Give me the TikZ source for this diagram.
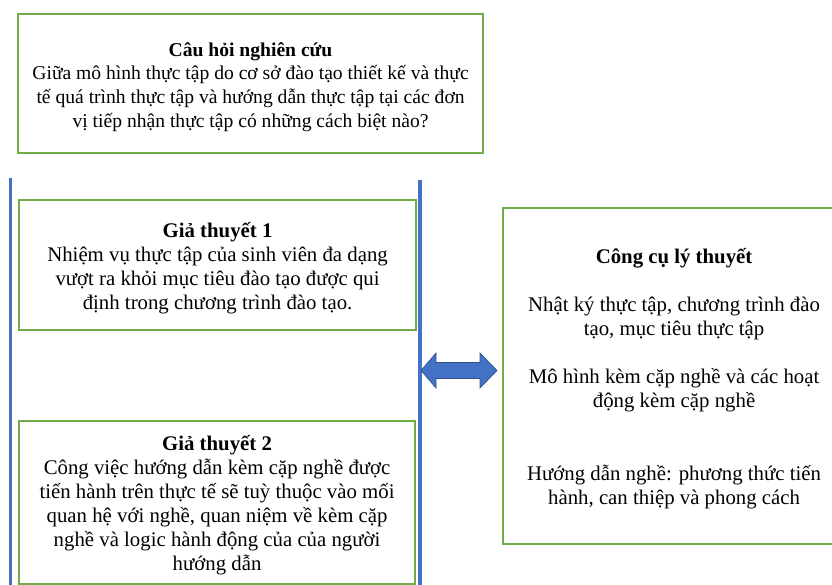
\documentclass[tikz,border=0pt]{standalone}
\usepackage{fontspec}
\setmainfont{Liberation Serif}
\usetikzlibrary{calc}
\definecolor{boxgreen}{RGB}{112,173,71}
\definecolor{lineblue}{RGB}{68,114,196}
\definecolor{arrowedge}{RGB}{47,82,143}
\newcommand{\mytopstrut}{\rule{0pt}{15.5pt}}
\begin{document}
\begin{tikzpicture}[x=0.75pt,y=-0.75pt,
  gbox/.style={draw=boxgreen,line width=1.6pt,fill=white,align=center,
    font=\fontsize{15.6}{18}\selectfont,inner sep=0pt,anchor=north west},
  topfont/.style={font=\fontsize{14.7}{17.8}\selectfont},
  bline/.style={draw=lineblue,line width=2.6pt},
  darrow/.style={fill=lineblue,draw=arrowedge,line width=0.5pt}]
\useasboundingbox (0,0) rectangle (832,585);
\clip (0,0) rectangle (832,585);
% top question box
\node[gbox,topfont,minimum width=465*0.75pt,minimum height=139*0.75pt] (q) at (17,13)
 {\mytopstrut\textbf{Câu hỏi nghiên cứu}\\
  Giữa mô hình thực tập do cơ sở đào tạo thiết kế và thực\\
  tế quá trình thực tập và hướng dẫn thực tập tại các đơn\\
  vị tiếp nhận thực tập có những cách biệt nào?};
% vertical blue lines
\coordinate (l1) at (10.5,178);
\coordinate (l2) at (10.5,590);
\coordinate (r1) at (420,180);
\coordinate (r2) at (420,590);
\draw[bline] (l1) -- (l2);
\draw[bline] (r1) -- (r2);
% hypothesis 1
\node[gbox,minimum width=397*0.75pt,minimum height=130*0.75pt] (h1) at (18,199)
 {\mytopstrut\textbf{Giả thuyết 1}\\
  Nhiệm vụ thực tập của sinh viên đa dạng\\
  vượt ra khỏi mục tiêu đào tạo được qui\\
  định trong chương trình đào tạo.};
% hypothesis 2
\node[gbox,minimum width=396*0.75pt,minimum height=163*0.75pt] (h2) at (18,420)
 {\mytopstrut\textbf{Giả thuyết 2}\\
  Công việc hướng dẫn kèm cặp nghề được\\
  tiến hành trên thực tế sẽ tuỳ thuộc vào mối\\
  quan hệ với nghề, quan niệm về kèm cặp\\
  nghề và logic hành động của của người\\
  hướng dẫn};
% theory tools box
\node[gbox,minimum width=342*0.75pt,minimum height=336*0.75pt] (t) at (502,207)
 {\mytopstrut\textbf{Công cụ lý thuyết}\\[18pt]
  Nhật ký thực tập, chương trình đào\\
  tạo, mục tiêu thực tập\\[18pt]
  Mô hình kèm cặp nghề và các hoạt\\
  động kèm cặp nghề\\[37pt]
  Hướng dẫn nghề: phương thức tiến\\
  hành, can thiệp và phong cách};
% double arrow
\coordinate (aL) at (421,370.5);
\coordinate (aR) at ($(t.west |- aL)+(-5,0)$);
\draw[darrow] (aL) -- ++(15,-17.5) -- ++(0,9.5) -- ++(44,0) -- ++(0,-9.5)
  -- (aR) -- ++(-17,17.5) -- ++(0,-9.5) -- ++(-44,0) -- ++(0,9.5) -- cycle;
\end{tikzpicture}
\end{document}
